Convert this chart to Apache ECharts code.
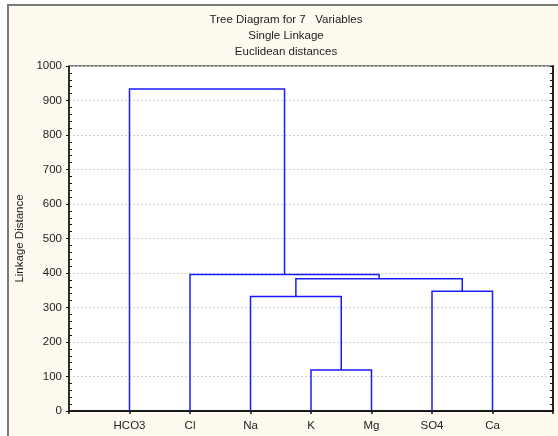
<!DOCTYPE html>
<html>
<head>
<meta charset="utf-8">
<script src="https://cdn.jsdelivr.net/npm/echarts@6/dist/echarts.min.js"></script>
<style>
  html, body { margin: 0; padding: 0; background: #fff; }
  #wrap { position: relative; width: 558px; height: 436px; overflow: hidden; }
  #frame { position: absolute; left: 7px; top: 4px; width: 560px; height: 440px;
           background: #fffaef; border-left: 2px solid #7a7a7a; border-top: 2px solid #7a7a7a; }
  #chart { position: absolute; left: 0; top: 0; width: 558px; height: 436px; }
</style>
</head>
<body>
<div id="wrap">
  <div id="frame"></div>
  <div id="chart"></div>
</div>
<script type="text/javascript">
// leaves in dendrogram order
var leaves = ['HCO3', 'Cl', 'Na', 'K', 'Mg', 'SO4', 'Ca'];
// merges: [left cluster, right cluster, linkage distance]
// clusters 0..6 are the leaves, 7.. are the merges in order
var mergeLeft  = [3, 2, 5, 8, 1, 0];
var mergeRight = [4, 7, 6, 9, 10, 11];
var mergeDist  = [119, 332, 347, 383, 396, 933];
var yTicks = [0, 100, 200, 300, 400, 500, 600, 700, 800, 900, 1000];

/* positions of each cluster: leaves at 1..n, merges at midpoint of children */
var nodeX = [], nodeH = [];
leaves.forEach(function (n, i) { nodeX.push(i + 1); nodeH.push(0); });
var segs = [];
for (var i = 0; i < mergeDist.length; i++) {
    var a = mergeLeft[i], b = mergeRight[i], h = mergeDist[i];
    segs.push({ coords: [[nodeX[a], nodeH[a]], [nodeX[a], h], [nodeX[b], h], [nodeX[b], nodeH[b]]] });
    nodeX.push((nodeX[a] + nodeX[b]) / 2);
    nodeH.push(h);
}

var font = 'Liberation Sans, Arial, sans-serif';
var tcol = '#222';
var fs = 11.5;

var chart = echarts.init(document.getElementById('chart'));
var option = {
    backgroundColor: 'transparent',
    animation: false,
    graphic: [
        { type: 'text', x: 286, y: 20, style: { text: 'Tree Diagram for 7   Variables', align: 'center', verticalAlign: 'middle', fill: tcol, fontSize: fs, fontFamily: font } },
        { type: 'text', x: 286, y: 36, style: { text: 'Single Linkage', align: 'center', verticalAlign: 'middle', fill: tcol, fontSize: fs, fontFamily: font } },
        { type: 'text', x: 286, y: 52, style: { text: 'Euclidean distances', align: 'center', verticalAlign: 'middle', fill: tcol, fontSize: fs, fontFamily: font } }
    ],
    grid: {
        left: 69, top: 66, width: 484, height: 345,
        show: true, backgroundColor: '#fff', borderColor: '#111', borderWidth: 1
    },
    xAxis: [{
        type: 'value', min: 0, max: 8, interval: 1, position: 'bottom',
        axisLine: { lineStyle: { color: '#111', width: 1.5 } },
        axisTick: { show: false },
        splitLine: { show: false },
        axisLabel: {
            margin: 9, color: tcol, fontSize: fs, fontFamily: font,
            formatter: function (v) { return leaves[v - 1] || ''; }
        }
    }, {
        type: 'value', min: 0, max: 8, interval: 1, position: 'top',
        axisLine: { lineStyle: { color: '#111', width: 1.5 } },
        axisTick: { show: true, inside: true, length: 3, lineStyle: { color: '#111', width: 1.5 } },
        splitLine: { show: false },
        axisLabel: { show: false }
    }],
    yAxis: [{
        type: 'value', min: yTicks[0], max: yTicks[yTicks.length - 1], interval: 100, position: 'left',
        name: 'Linkage Distance', nameLocation: 'middle', nameGap: 40,
        nameTextStyle: { color: tcol, fontSize: fs, fontFamily: font },
        axisLine: { lineStyle: { color: '#111', width: 1.5 } },
        axisTick: { show: true, inside: false, length: 3, lineStyle: { color: '#111' } },
        minorTick: { show: false },
        splitLine: { show: true, lineStyle: { color: '#cfcfcf', type: [2, 2], width: 1 } },
        axisLabel: {
            margin: 7, color: tcol, fontSize: fs, fontFamily: font,
            formatter: function (v) { return String(v); }
        }
    }, {
        // minor ticks pointing into the plot on the left side
        type: 'value', min: yTicks[0], max: yTicks[yTicks.length - 1], interval: 100, position: 'left',
        axisLine: { show: false },
        axisTick: { show: false, inside: true },
        minorTick: { show: true, splitNumber: 5, length: 3, lineStyle: { color: '#111' } },
        splitLine: { show: false },
        axisLabel: { show: false }
    }, {
        type: 'value', min: yTicks[0], max: yTicks[yTicks.length - 1], interval: 100, position: 'right',
        axisLine: { lineStyle: { color: '#222', width: 2 } },
        axisTick: { show: true, inside: true, length: 3, lineStyle: { color: '#111' } },
        minorTick: { show: true, splitNumber: 5, length: 3, lineStyle: { color: '#111' } },
        splitLine: { show: false },
        axisLabel: { show: false }
    }],
    series: [{
        type: 'lines',
        coordinateSystem: 'cartesian2d',
        polyline: true,
        xAxisIndex: 0, yAxisIndex: 0,
        lineStyle: { color: '#1a1aff', width: 1.5, opacity: 1 },
        data: segs,
        silent: true
    }]
};
chart.setOption(option);
</script>
</body>
</html>
